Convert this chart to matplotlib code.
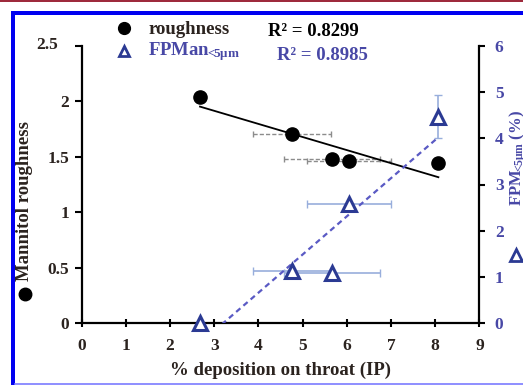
import numpy as np
import matplotlib.pyplot as plt
from matplotlib.lines import Line2D
from matplotlib.patches import Rectangle
import matplotlib.transforms as mtransforms

# data
throat_dep = [2.68, 4.76, 5.66, 6.06, 8.07]
throat_err = [0, 0.88, 1.08, 0.95, 0]
roughness = [2.04, 1.71, 1.48, 1.46, 1.44]
fpm = [0.0, 1.13, 1.08, 2.58, 4.47]
fpm_err = [0, 0, 0, 0, 0.46]
r2_roughness = '0.8299'
r2_fpm = '0.8985'
x_ticks = list(range(10))
left_ticks = [0, 0.5, 1, 1.5, 2, 2.5]
left_labels = ['0', '0.5', '1', '1.5', '2', '2.5']
right_ticks = [0, 1, 2, 3, 4, 5, 6]

plt.rcParams['font.family'] = ['Liberation Serif', 'DejaVu Sans']
plt.rcParams['font.weight'] = 'bold'
plt.rcParams['mathtext.fontset'] = 'custom'
plt.rcParams['mathtext.rm'] = 'Liberation Serif:bold'
plt.rcParams['mathtext.it'] = 'Liberation Serif:bold'
plt.rcParams['mathtext.bf'] = 'Liberation Serif:bold'

W, H = 523, 385
dark = '#2b231f'
blue_txt = '#4848a6'
tri_col = '#2b3a93'
sub = r'$_{\mathrm{\!\!<\!\!5μm}}$'

def fx(px):
    return px / W

def fy(py):
    return 1 - py / H

fig = plt.figure(figsize=(5.23, 3.85), dpi=100)

# page decoration: red rule on top, blue frame
fig.add_artist(Rectangle((0, fy(2)), 1, 2 / H, transform=fig.transFigure, color='#9e2a3c', lw=0))
fig.add_artist(Rectangle((fx(11), fy(15)), 1, 4 / H, transform=fig.transFigure, color='#0000f0', lw=0))
fig.add_artist(Rectangle((fx(11), 0), 4 / W, fy(11), transform=fig.transFigure, color='#0000f0', lw=0))
fig.add_artist(Line2D([fx(15), 1], [fy(383.5), fy(383.5)], transform=fig.transFigure, color='#7b7bff', lw=1.2))

ax = fig.add_axes([fx(81.5), fy(323), fx(479.5) - fx(81.5), fy(46) - fy(323)])
ax2 = ax.twinx()

# roughness on left axis
eb = ax.errorbar(throat_dep, roughness, xerr=throat_err, fmt='none', ecolor='#8c8c8c',
                 elinewidth=1, capsize=2.5)
eb[2][0].set_linestyle((0, (3, 1.5)))
k, b = np.polyfit(throat_dep, roughness, 1)
xs = np.array([min(throat_dep), max(throat_dep)])
ax.plot(xs, k * xs + b, color='black', lw=1.3)
ax.plot(throat_dep, roughness, 'o', color='black', ms=9.5, zorder=5)

# FPM on right axis
ax2.errorbar(throat_dep, fpm, xerr=throat_err, yerr=fpm_err, fmt='none', ecolor='#98aedc',
             elinewidth=1.2, capsize=3)
k2, b2 = np.polyfit(throat_dep, fpm, 1)
ax2.plot(xs, k2 * xs + b2, color='#5a5ac4', lw=1.6, ls=(0, (2.5, 1.8)))
ax2.plot(throat_dep, fpm, '^', mfc='white', mec=tri_col, mew=2.2, ms=10, clip_on=False, zorder=5)

ax.set_xlim(0, 9)
ax.set_ylim(0, 2.5)
ax2.set_ylim(0, 6)
ax.set_xticks(x_ticks)
ax.set_yticks(left_ticks)
ax.set_yticklabels(left_labels)
ax2.set_yticks(right_ticks)

for s in ['top', 'right']:
    ax.spines[s].set_visible(False)
for s in ['top', 'left', 'bottom']:
    ax2.spines[s].set_visible(False)
for s in ['left', 'bottom']:
    ax.spines[s].set_linewidth(1.6)
ax2.spines['right'].set_linewidth(1.6)

ax.tick_params(axis='x', direction='inout', length=6, width=1.5, pad=8, labelsize=12.5, labelcolor=dark)
ax.tick_params(axis='y', direction='out', length=5, width=1.5, pad=4, labelsize=12.5, labelcolor=dark)
ax2.tick_params(axis='y', direction='out', length=4, width=1.5, pad=7, labelsize=12.5, labelcolor=blue_txt)

# the 2.5 label sits further left and higher in the original
lab = ax.get_yticklabels()[-1]
lab.set_transform(lab.get_transform() + mtransforms.ScaledTranslation(-0.11, 0.03, fig.dpi_scale_trans))

ax.set_xlabel('% deposition on throat (IP)', fontsize=13.5, fontweight='bold', color=dark, labelpad=5)

# axis titles with their marker symbols
fig.text(fx(25), fy(201), 'Mannitol roughness', rotation=90, ha='center', va='center',
         fontsize=13.5, color=dark)
fig.add_artist(Line2D([fx(25)], [fy(294)], marker='o', color='black', ms=9, transform=fig.transFigure))
fig.text(fx(518), fy(158), 'FPM' + sub + ' (%)', rotation=90, ha='center', va='center',
         fontsize=12, color=blue_txt)
fig.add_artist(Line2D([fx(516)], [fy(255)], marker='^', mfc='white', mec=tri_col, mew=2, ms=8,
                      transform=fig.transFigure))

# legend and R² texts
fig.add_artist(Line2D([fx(124)], [fy(28)], marker='o', color='black', ms=8.5, transform=fig.transFigure))
fig.text(fx(148), fy(30), 'roughness', ha='left', va='center', fontsize=13.5, color=dark)
fig.add_artist(Line2D([fx(124)], [fy(51)], marker='^', mfc='white', mec=tri_col, mew=2, ms=7,
                      transform=fig.transFigure))
fig.text(fx(148), fy(52), 'FPMan' + sub, ha='left', va='center', fontsize=13.5, color=blue_txt)
fig.text(fx(268), fy(32), 'R² = ' + r2_roughness, ha='left', va='center', fontsize=13.5, color='black')
fig.text(fx(277), fy(56), 'R² = ' + r2_fpm, ha='left', va='center', fontsize=13.5, color=blue_txt)

fig.savefig('out.png', dpi=100)
